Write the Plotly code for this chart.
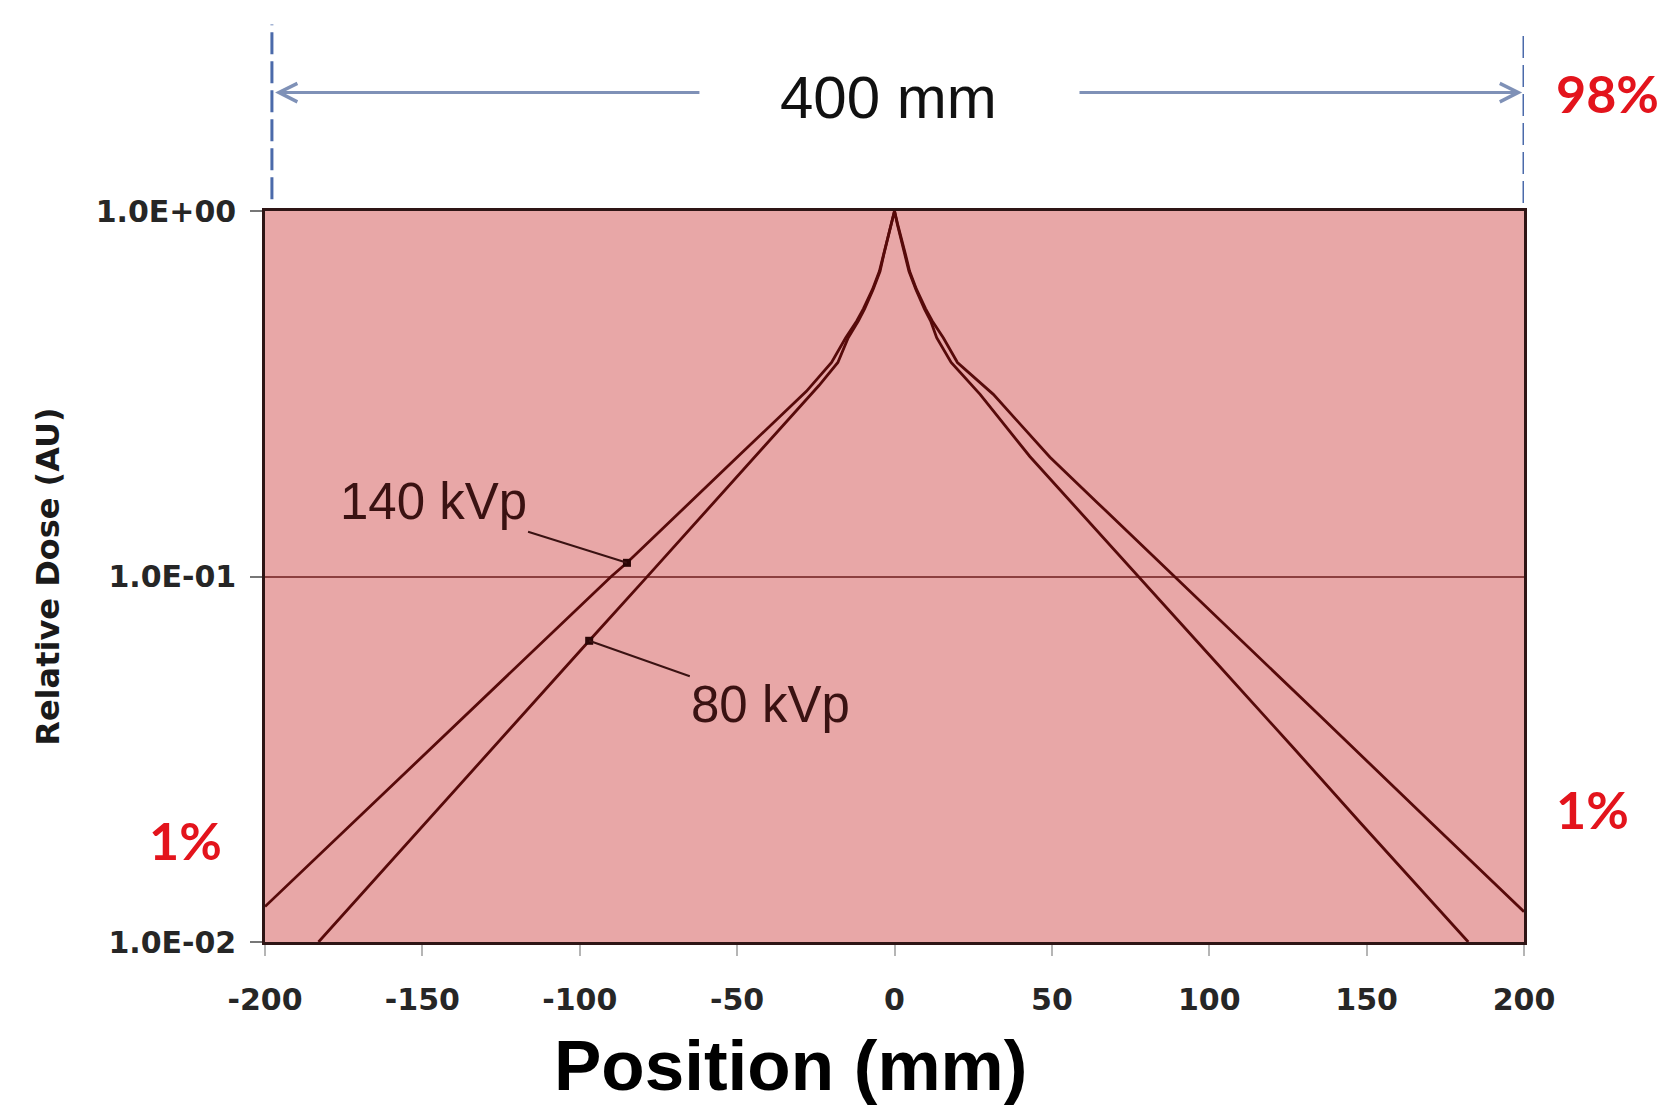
import math
import plotly.graph_objects as go

# Lateral dose profiles (position in mm, relative dose)
pos_140 = [-200, -171, -126, -90, -85, -69, -50, -28, -20, -15.5, -12, -9.9, -7, -4.8, -3.5, -2.3, -1, 0,
           1, 2.3, 3.5, 4.8, 7, 9.9, 12, 15.5, 20, 31.4, 49.4, 64.2, 89, 116, 135, 170, 200]
dose_140 = [0.0125, 0.0216, 0.0506, 0.100, 0.109, 0.148, 0.212, 0.321, 0.385, 0.45, 0.50, 0.54, 0.61, 0.684, 0.76, 0.84, 0.92, 1.0,
            0.92, 0.84, 0.76, 0.684, 0.61, 0.54, 0.50, 0.45, 0.385, 0.315, 0.212, 0.160, 0.100, 0.0598, 0.0417, 0.0214, 0.0121]

pos_80 = [-183, -151, -113, -97, -79, -62, -44, -24, -18, -14.7, -11.5, -9.5, -6.8, -4.6, -3.4, -2.1, -0.9, 0,
          0.9, 2.1, 3.4, 4.6, 6.8, 9.5, 11.5, 13.4, 18, 27.2, 43, 61.1, 77.5, 102.4, 126.7, 148, 182.3]
dose_80 = [0.010, 0.0203, 0.0469, 0.0667, 0.099, 0.144, 0.214, 0.333, 0.385, 0.45, 0.50, 0.54, 0.61, 0.684, 0.76, 0.84, 0.92, 1.0,
           0.92, 0.84, 0.76, 0.684, 0.61, 0.54, 0.50, 0.45, 0.385, 0.315, 0.213, 0.143, 0.100, 0.0579, 0.034, 0.0212, 0.010]

x_ticks = [-200, -150, -100, -50, 0, 50, 100, 150, 200]
x_ticktext = ["-200", "-150", "-100", "-50", "0", "50", "100", "150", "200"]
y_ticks = [0.01, 0.1, 1.0]
y_ticktext = ["1.0E-02", "1.0E-01", "1.0E+00"]

# labelled points on each curve
i140 = pos_140.index(-85)
i80 = pos_80.index(-97)

curve_color = "#570a0a"
label_color = "#3a1212"
red = "#e3141c"

fig = go.Figure()
fig.add_trace(go.Scatter(x=pos_140, y=dose_140, mode="lines",
                         line=dict(color=curve_color, width=2.8), name="140 kVp"))
fig.add_trace(go.Scatter(x=pos_80, y=dose_80, mode="lines",
                         line=dict(color=curve_color, width=2.8), name="80 kVp"))
fig.add_trace(go.Scatter(x=[pos_140[i140], pos_80[i80]], y=[dose_140[i140], dose_80[i80]],
                         mode="markers", marker=dict(symbol="square", size=8, color="#2a0505"),
                         showlegend=False))

arial = "Liberation Sans, Arial, sans-serif"

annotations = [
    # curve labels with leader lines
    dict(x=pos_140[i140], y=math.log10(dose_140[i140]), xref="x", yref="y",
         ax=-146.6, ay=-0.7955, axref="x", ayref="y",
         text="140 kVp", showarrow=True, arrowhead=0, arrowwidth=2, arrowcolor=label_color,
         font=dict(family=arial, size=51, color=label_color)),
    dict(x=pos_80[i80], y=math.log10(dose_80[i80]), xref="x", yref="y",
         ax=-39.3, ay=-1.351, axref="x", ayref="y",
         text="80 kVp", showarrow=True, arrowhead=0, arrowwidth=2, arrowcolor=label_color,
         font=dict(family=arial, size=51, color=label_color)),
    # 400 mm span arrows
    dict(x=-196.8, y=1.162, xref="x", yref="paper", ax=-61.5, ay=0, axref="x", ayref="pixel",
         text="", showarrow=True, arrowhead=5, arrowsize=1.2, arrowwidth=3, arrowcolor="#7f91b7"),
    dict(x=199.4, y=1.162, xref="x", yref="paper", ax=58.3, ay=0, axref="x", ayref="pixel",
         text="", showarrow=True, arrowhead=5, arrowsize=1.2, arrowwidth=3, arrowcolor="#7f91b7"),
    dict(x=0.4956, y=1.155, xref="paper", yref="paper", text="400 mm", showarrow=False,
         xanchor="center", yanchor="middle",
         font=dict(family=arial, size=60, color="#111111")),
    dict(x=1.066, y=1.161, xref="paper", yref="paper", text="<b>98%</b>", showarrow=False,
         xanchor="center", yanchor="middle",
         font=dict(family="Lato, Liberation Sans, sans-serif", size=52, color=red)),
    dict(x=-0.0635, y=0.1396, xref="paper", yref="paper", text="<b>1%</b>", showarrow=False,
         xanchor="center", yanchor="middle",
         font=dict(family="Lato, Liberation Sans, sans-serif", size=52, color=red)),
    dict(x=1.0548, y=0.182, xref="paper", yref="paper", text="<b>1%</b>", showarrow=False,
         xanchor="center", yanchor="middle",
         font=dict(family="Lato, Liberation Sans, sans-serif", size=52, color=red)),
    # axis titles
    dict(x=-0.1724, y=0.4996, xref="paper", yref="paper", text="<b>Relative Dose (AU)</b>",
         textangle=-90, showarrow=False, xanchor="center", yanchor="middle",
         font=dict(family="DejaVu Sans, sans-serif", size=32, color="#1a1a1a")),
    dict(x=0.4176, y=-0.169, xref="paper", yref="paper", text="<b>Position (mm)</b>",
         showarrow=False, xanchor="center", yanchor="middle",
         font=dict(family=arial, size=71, color="#000000")),
]

# dashed field-edge markers
shapes = [
    dict(type="line", xref="x", yref="paper", x0=-197.8, x1=-197.8, y0=1.016, y1=1.255,
         line=dict(color="#4b6aaa", width=3, dash="22px,7px")),
    dict(type="line", xref="x", yref="paper", x0=200, x1=200, y0=1.011, y1=1.244,
         line=dict(color="#4b6aaa", width=3, dash="22px,7px")),
]

tick_font = dict(family="DejaVu Sans, sans-serif", size=30, color="#262626", weight="bold")

fig.update_layout(
    width=1674, height=1108,
    margin=dict(l=265, r=150, t=211, b=166),
    paper_bgcolor="#ffffff",
    plot_bgcolor="#e8a7a7",
    showlegend=False,
    annotations=annotations,
    shapes=shapes,
    xaxis=dict(range=[-200, 200], tickvals=x_ticks, ticktext=x_ticktext, ticks="outside", ticklen=11,
               tickcolor="#b5b5b5", tickwidth=1.5, showgrid=False, zeroline=False,
               showline=True, linecolor="#2e1515", linewidth=2.5, mirror=True,
               ticklabelstandoff=18, tickfont=tick_font),
    yaxis=dict(type="log", range=[-2, 0], tickvals=y_ticks, ticktext=y_ticktext,
               ticks="outside", ticklen=12, tickcolor="#777777", tickwidth=1.5,
               showgrid=True, gridcolor="#8c3f3f", gridwidth=1.5, zeroline=False,
               showline=True, linecolor="#2e1515", linewidth=2.5, mirror=True,
               ticklabelstandoff=8, tickfont=tick_font),
)

fig.write_html("out.html")
